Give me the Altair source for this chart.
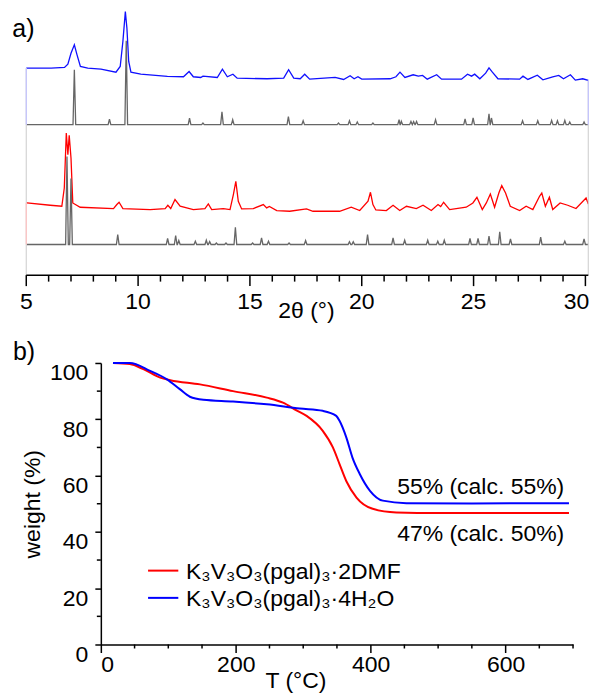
import altair as alt
import pandas as pd

FONT = "Liberation Sans"

# ---------------- panel a: PXRD (intensity in arbitrary stacked units) ----------------
blue_x = [5.0, 5.04, 6.11, 6.71, 6.86, 7.0, 7.15, 7.27, 7.42, 7.75, 8.34, 9.01, 9.2, 9.32, 9.43, 9.5, 9.58,
          9.68, 10.12, 11.31, 12.03, 12.28, 12.47, 12.8, 12.9, 13.54, 13.77, 13.99, 14.24, 14.43, 15.77,
          16.51, 16.73, 16.96, 17.25, 17.45, 17.67, 18.81, 19.19, 19.48, 19.66, 19.83, 20.0, 21.27, 21.53,
          21.71, 21.93, 22.3, 22.53, 22.72, 22.93, 23.35, 23.57, 24.46, 24.73, 24.91, 25.05, 25.28, 25.54,
          25.69, 25.84, 26.09, 27.06, 27.21, 27.43, 27.85, 28.1, 28.54, 28.81, 29.02, 29.33, 29.55, 29.88, 30.13]
blue_y = [207.3, 207.3, 207.3, 208, 211.3, 222.3, 230.7, 220.7, 209, 207.3, 206.3, 203.3, 209, 234, 264, 247.3, 214,
          203.3, 201.3, 199, 198.7, 204, 198.7, 198, 199.3, 198, 206.3, 198.7, 201.3, 197.3, 196.7,
          197.3, 205.7, 197.3, 196.7, 201.3, 196.3, 198, 196, 199.7, 196.7, 198.7, 196.3, 196.7, 198.7,
          203.3, 198, 200.7, 199.3, 200, 196.3, 200.7, 196.3, 196.3, 201.3, 199.3, 201.3, 196.7, 202.3,
          207.7, 203.3, 196.7, 196.3, 199.3, 196, 200.3, 195.7, 198.7, 200, 196.7, 200.7, 195.3, 196.7, 195]

red_x = [5.0, 5.03, 6.07, 6.59, 6.7, 6.79, 6.86, 6.92, 7.0, 7.08, 7.41, 8.9, 9.05, 9.15, 9.32, 10.54, 11.21,
         11.33, 11.46, 11.65, 11.88, 12.47, 12.99, 13.14, 13.29, 13.81, 14.11, 14.26, 14.37, 14.48, 14.63,
         15.15, 15.6, 15.75, 15.87, 16.2, 16.78, 17.53, 17.82, 19.01, 19.53, 19.91, 20.28, 20.39, 20.5,
         20.63, 21.1, 21.4, 21.7, 22.0, 22.44, 22.74, 23.11, 23.41, 23.53, 23.66, 23.93, 24.67, 24.97,
         25.15, 25.39, 25.57, 25.75, 25.94, 26.13, 26.26, 26.43, 26.64, 27.06, 27.35, 27.65, 27.95, 28.05,
         28.21, 28.39, 28.54, 28.87, 29.21, 29.58, 30.03, 30.13]
red_y = [72.3, 72.3, 70, 69, 87.3, 142.3, 120.7, 140, 117.3, 72.3, 68, 66.7, 70.7, 73, 66.7, 65.7, 66.7,
         70, 66.7, 75.7, 69, 65.7, 66.7, 71.3, 65.7, 66.7, 65.7, 80.7, 94, 74, 66.3,
         66.7, 70.7, 67.3, 68.7, 64.7, 64, 66.3, 64, 64, 68, 64.7, 74, 83, 70.7,
         65.3, 64.7, 70, 64.7, 69, 66.7, 70, 64.7, 70.7, 68.7, 73, 65.7, 68, 72.3,
         78, 65.7, 72.3, 81.3, 68, 82.3, 89.7, 82.3, 69, 64.7, 69, 65.7, 79, 82.3,
         69, 78, 65.7, 72.3, 70, 66.7, 77.3, 71.3]

# simulated patterns: baseline level, peak positions and peak heights
sim1_base = 150.7
sim1_pos = [7.15, 8.72, 9.47, 12.3, 12.9, 13.75, 14.23, 16.72, 17.38, 18.96, 19.45, 19.8, 20.5, 21.67,
            21.77, 22.2, 22.32, 22.45, 23.3, 24.62, 24.98, 25.69, 25.8, 27.19, 27.87, 28.49, 28.75,
            29.08, 29.3, 29.94]
sim1_h = [55, 5.6, 84, 6.6, 1.6, 13, 5, 8, 4, 1.7, 4, 2.7, 1.7, 5,
          3.3, 3.3, 3, 3.3, 5, 5.7, 6.7, 11, 6.7, 4, 4, 4.3, 4,
          4.3, 2.7, 2.7]
sim2_base = 30.7
sim2_pos = [6.82, 7.0, 9.09, 11.32, 11.68, 11.82, 12.56, 13.05, 13.2, 13.5, 13.93, 14.35, 15.12, 15.52,
            15.83, 16.75, 17.49, 19.45, 19.62, 20.26, 21.4, 21.92, 22.95, 23.4, 23.69, 24.84, 25.2,
            25.69, 26.17, 26.65, 28.0, 29.08, 29.94]
sim2_h = [88, 66, 10, 6, 9, 4, 3.3, 4.3, 3, 1.5, 1.5, 17.3, 1.5, 6.7,
          3.3, 1.5, 4, 2.7, 2.7, 10, 6.7, 4.3, 4.3, 3.3, 4.3, 6, 6,
          8.3, 12.7, 5.7, 7.3, 3.3, 5.7]

x_ticks_a = [5, 10, 15, 20, 25, 30]
x_minor_a = [v for v in range(6, 30) if v % 5 != 0]
X_MIN, X_MAX = 5.0, 30.13
xa_title = ["2θ (°)"]

# ---------------- panel b: TGA ----------------
red_T = [18, 43, 63, 88, 103, 147, 196, 246, 270, 290, 305, 329, 344, 354, 364, 379, 403, 438, 500, 600, 694]
red_W = [100, 99.6, 97.8, 94.8, 93.9, 92.4, 90, 87.7, 85.9, 83.2, 81.2, 75.9, 70, 64, 58, 52.2, 48.2,
         46.9, 46.7, 46.7, 46.7]
blue_T = [18, 43, 73, 98, 117, 132, 152, 196, 246, 295, 329, 349, 354, 364, 373, 384, 399, 418, 453,
          550, 694]
blue_W = [100, 100, 97.2, 94.2, 90.7, 88, 86.9, 86.3, 85.3, 83.8, 83.0, 81.2, 79.4, 73.5, 66.4, 60.5,
          54.6, 51.1, 50.2, 50.1, 50.2]
series_names = ["K₃V₃O₃(pgal)₃·2DMF", "K₃V₃O₃(pgal)₃·4H₂O"]
series_colors = ["#ff0000", "#0000ff"]

ann_text = ["55% (calc. 55%)", "47% (calc. 50%)"]
ann_T = [687, 687]
ann_W = [53.4, 36.9]

x_ticks_b = [0, 200, 400, 600]
x_minor_b = [50, 100, 150, 250, 300, 350, 450, 500, 550, 650, 700]
y_ticks_b = [0, 20, 40, 60, 80, 100]
y_minor_b = [10, 30, 50, 70, 90]

# ---------------- build tables ----------------
def sim_points(pos, h, base):
    pts = [(X_MIN, base), (X_MAX, base)]
    for p, hh in zip(pos, h):
        pts += [(p - 0.06, base), (p, base + hh), (p + 0.06, base)]
    pts.sort(key=lambda t: t[0])
    return [t[0] for t in pts], [t[1] for t in pts]

rows = []
def add(name, xs, ys):
    for i, (xv, yv) in enumerate(zip(xs, ys)):
        rows.append({"trace": name, "x": xv, "y": yv, "i": i})

add("blue", blue_x, blue_y)
s1x, s1y = sim_points(sim1_pos, sim1_h, sim1_base)
add("sim1", s1x, s1y)
add("red", red_x, red_y)
s2x, s2y = sim_points(sim2_pos, sim2_h, sim2_base)
add("sim2", s2x, s2y)
xrd = pd.DataFrame(rows)

edge = pd.DataFrame([
    {"x": X_MIN, "y": 0, "y2": blue_y[0], "c": "#d4d4d4"},
    {"x": X_MAX, "y": 0, "y2": blue_y[-1], "c": "#d4d4d4"},
    {"x": X_MIN, "y": sim1_base, "y2": blue_y[0], "c": "#c4c4ff"},
    {"x": X_MAX, "y": sim1_base, "y2": blue_y[-1], "c": "#c4c4ff"},
    {"x": X_MIN, "y": sim2_base, "y2": red_y[0], "c": "#ffc4c4"},
])

tga_rows = []
for name, Ts, Ws in [(series_names[0], red_T, red_W), (series_names[1], blue_T, blue_W)]:
    for i, (t, w) in enumerate(zip(Ts, Ws)):
        tga_rows.append({"sample": name, "T": t, "W": w, "i": i})
tga = pd.DataFrame(tga_rows)

# ---------------- geometry (pixels, relative to the single view's origin) ----------------
W_VIEW = 473          # width of panel b plot
H_VIEW = 636          # from top of panel a to bottom of panel b
A_BOTTOM = 266        # panel a axis line
B_TOP = 354           # panel b top (value 100)
A_LEFT, A_RIGHT = -74.7, 488.3   # pixel span of panel a's x axis

# panel a x-scale: domain chosen so that X_MIN..X_MAX lands on A_LEFT..A_RIGHT in a 0..W_VIEW range
ppu = (A_RIGHT - A_LEFT) / (X_MAX - X_MIN)
d0 = X_MIN - A_LEFT / ppu
d1 = d0 + W_VIEW / ppu
xscale_a = alt.Scale(domain=[d0, d1], nice=False, zero=False)
yscale_a = alt.Scale(domain=[0, A_BOTTOM], nice=False, zero=True, range=[A_BOTTOM, 0])

def xa(field):
    return alt.X(field, scale=xscale_a, axis=None)

# ---------------- panel a layers ----------------
lines_a = alt.Chart(xrd).mark_line(strokeWidth=1.3).encode(
    x=xa("x:Q"),
    y=alt.Y("y:Q", scale=yscale_a, axis=None),
    color=alt.Color("trace:N", legend=None,
                    scale=alt.Scale(domain=["blue", "sim1", "red", "sim2"],
                                    range=["#1010ff", "#666666", "#ff0000", "#666666"])),
    order="i:Q",
)
edges = alt.Chart(edge).mark_rule(strokeWidth=1.2).encode(
    x=xa("x:Q"),
    y=alt.Y("y:Q", scale=yscale_a, axis=None),
    y2="y2:Q",
    stroke=alt.Stroke("c:N", scale=None),
)
axis_line_a = alt.Chart(pd.DataFrame({"x": [X_MIN], "x2": [X_MAX]})).mark_rule(
    color="black", strokeWidth=1.5).encode(x=xa("x:Q"), x2="x2:Q", y=alt.value(A_BOTTOM))
major_a = alt.Chart(pd.DataFrame({"x": x_ticks_a})).mark_rule(color="black", strokeWidth=1.5).encode(
    x=xa("x:Q"), y=alt.value(A_BOTTOM), y2=alt.value(A_BOTTOM + 11))
minor_a = alt.Chart(pd.DataFrame({"x": x_minor_a})).mark_rule(color="black", strokeWidth=1.5).encode(
    x=xa("x:Q"), y=alt.value(A_BOTTOM), y2=alt.value(A_BOTTOM + 6.5))
tick_lab_a = alt.Chart(pd.DataFrame({"x": x_ticks_a[:-1], "t": [str(v) for v in x_ticks_a[:-1]]})).mark_text(
    font=FONT, fontSize=23, align="center", baseline="alphabetic", color="black"
).encode(x=xa("x:Q"), y=alt.value(A_BOTTOM + 34), text="t:N")
tick_lab_a_end = alt.Chart(pd.DataFrame({"x": x_ticks_a[-1:], "t": [str(x_ticks_a[-1])]})).mark_text(
    font=FONT, fontSize=23, align="right", baseline="alphabetic", color="black", dx=4
).encode(x=xa("x:Q"), y=alt.value(A_BOTTOM + 34), text="t:N")
title_a = alt.Chart(pd.DataFrame({"x": [17.53], "t": xa_title})).mark_text(
    font=FONT, fontSize=23, align="center", baseline="alphabetic", color="black"
).encode(x=xa("x:Q"), y=alt.value(A_BOTTOM + 43), text="t:N")
layer_a = alt.layer(lines_a, edges, axis_line_a, major_a, minor_a, tick_lab_a, tick_lab_a_end, title_a)

# ---------------- panel b layers ----------------
xscale_b = alt.Scale(domain=[0, 700], nice=False)
yscale_b = alt.Scale(domain=[0, 100], nice=False, range=[H_VIEW, B_TOP])

lines_b = alt.Chart(tga).mark_line(strokeWidth=2, interpolate="monotone").encode(
    x=alt.X("T:Q", scale=xscale_b,
            axis=alt.Axis(orient="bottom", values=x_ticks_b, tickSize=8, tickWidth=1.5,
                          tickColor="black", domainColor="black", domainWidth=1.5, labelPadding=1,
                          labelFontSize=23, labelFont=FONT, labelColor="black", grid=False,
                          title="T (°C)", titleFont=FONT, titleFontSize=23, titleFontWeight="normal",
                          titleColor="black", titleX=195, titleY=43, titleAlign="center",
                          titleBaseline="alphabetic")),
    y=alt.Y("W:Q", scale=yscale_b,
            axis=alt.Axis(orient="left", values=y_ticks_b, tickSize=6, tickWidth=1.5,
                          tickColor="black", domainColor="black", domainWidth=1.5, labelPadding=7,
                          labelOffset=10, labelFontSize=23, labelFont=FONT, labelColor="black",
                          grid=False, title="weight (%)", titleFont=FONT, titleFontSize=23,
                          titleFontWeight="normal", titleColor="black", titleX=-56,
                          titleY=(B_TOP + H_VIEW) / 2, titleAngle=-90, titleAlign="center",
                          titleBaseline="bottom")),
    color=alt.Color("sample:N", legend=None,
                    scale=alt.Scale(domain=series_names, range=series_colors)),
    order="i:Q",
)
minor_bx = alt.Chart(pd.DataFrame({"T": x_minor_b})).mark_rule(color="black", strokeWidth=1.5).encode(
    x=alt.X("T:Q", scale=xscale_b), y=alt.value(H_VIEW), y2=alt.value(H_VIEW + 4))
minor_by = alt.Chart(pd.DataFrame({"W": y_minor_b})).mark_rule(color="black", strokeWidth=1.5).encode(
    y=alt.Y("W:Q", scale=yscale_b), x=alt.value(-4), x2=alt.value(0))
ann = alt.Chart(pd.DataFrame({"t": ann_text, "T": ann_T, "W": ann_W})).mark_text(
    font=FONT, fontSize=23, align="right", baseline="alphabetic", color="black"
).encode(x=alt.X("T:Q", scale=xscale_b), y=alt.Y("W:Q", scale=yscale_b), text="t:N")
layer_b = alt.layer(lines_b, minor_bx, minor_by, ann)

# ---------------- hand-drawn legend and panel labels (pixel placement) ----------------
legend_parts = []
for k, (name, col) in enumerate(zip(series_names, series_colors)):
    ypix = 562 + 27.3 * k
    legend_parts.append(
        alt.Chart(pd.DataFrame({"s": [name]})).mark_rule(color=col, strokeWidth=2).encode(
            x=alt.value(47.3), x2=alt.value(77.6), y=alt.value(ypix)))
    legend_parts.append(
        alt.Chart(pd.DataFrame({"s": [name]})).mark_text(
            font=FONT, fontSize=23, align="left", baseline="alphabetic", color="black"
        ).encode(text="s:N", x=alt.value(85.3), y=alt.value(ypix + 8.3)))

labels = alt.Chart(pd.DataFrame({"t": ["a)", "b)"], "px": [-88.7, -88], "py": [27, B_TOP - 3]})).mark_text(
    font=FONT, fontSize=25, align="left", baseline="alphabetic", color="black"
).encode(text="t:N", x=alt.X("px:Q", scale=None), y=alt.Y("py:Q", scale=None))

chart = alt.layer(layer_b, layer_a, labels, *legend_parts).resolve_scale(
    x="independent", y="independent", color="independent"
).properties(
    width=W_VIEW, height=H_VIEW,
    padding={"left": 4, "top": 0, "right": 0, "bottom": 0},
).configure_view(stroke=None)

chart.save("out.html", embed_options={"renderer": "svg", "actions": False})
